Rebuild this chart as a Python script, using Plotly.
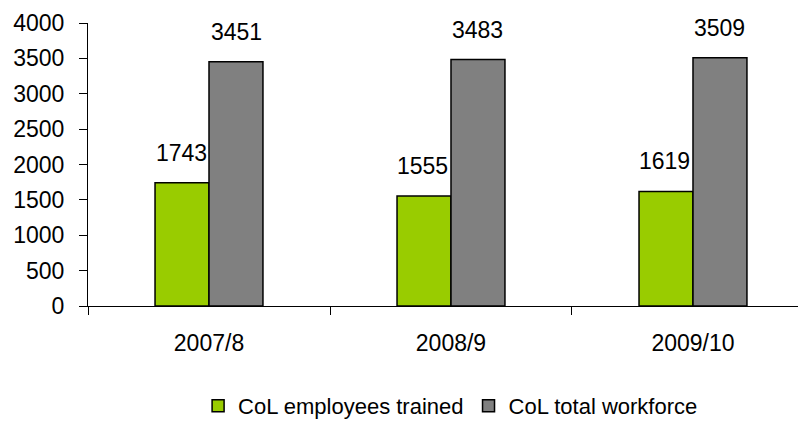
import plotly.graph_objects as go

categories = ["2007/8", "2008/9", "2009/10"]
trained = [1743, 1555, 1619]
workforce = [3451, 3483, 3509]
series_names = ["CoL employees trained", "CoL total workforce"]
y_ticks = [0, 500, 1000, 1500, 2000, 2500, 3000, 3500, 4000]

FONT = "Liberation Sans, Arial, sans-serif"
FS = 23
fig = go.Figure()
fig.add_trace(go.Bar(x=categories, y=trained, name=series_names[0],
                     marker=dict(color="#99CC00", line=dict(color="black", width=1.5))))
fig.add_trace(go.Bar(x=categories, y=workforce, name=series_names[1],
                     marker=dict(color="#808080", line=dict(color="black", width=1.5))))

annotations = []
for c, v in zip(categories, trained):
    annotations.append(dict(x=c, y=v, text=str(v), xref="x", yref="y", showarrow=False,
                            xshift=-28, yshift=15, yanchor="bottom",
                            font=dict(size=FS, color="black", family=FONT)))
for c, v in zip(categories, workforce):
    annotations.append(dict(x=c, y=v, text=str(v), xref="x", yref="y", showarrow=False,
                            xshift=27, yshift=15, yanchor="bottom",
                            font=dict(size=FS, color="black", family=FONT)))

fig.update_layout(
    width=798, height=440,
    margin=dict(l=80, r=0, t=15, b=142),
    paper_bgcolor="white", plot_bgcolor="white",
    font=dict(family=FONT, size=FS, color="black"),
    barmode="group", bargap=0.554, bargroupgap=0,
    showlegend=True,
    legend=dict(orientation="h", x=0.505, xanchor="center", y=-0.353, yanchor="middle",
                font=dict(size=22), itemwidth=30, tracegroupgap=0),
    annotations=annotations,
)
fig.update_xaxes(type="category", range=[-0.5, 2.467], showline=True, linecolor="black",
                 linewidth=1, ticks="outside", tickson="boundaries", ticklen=8,
                 tickcolor="black", showgrid=False, ticklabelstandoff=16,
                 tickfont=dict(size=FS))
fig.update_yaxes(range=[0, 4000], tickvals=y_ticks, showline=True, linecolor="black",
                 linewidth=1, ticks="outside", ticklen=8, tickcolor="black",
                 showgrid=False, zeroline=False, ticklabelstandoff=10,
                 tickfont=dict(size=FS))

fig.write_html("out.html")
